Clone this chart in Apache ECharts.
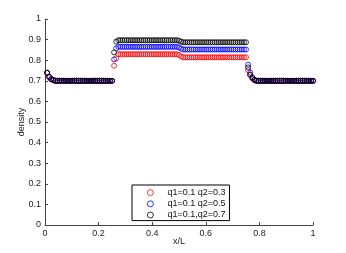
<!DOCTYPE html>
<html>
<head>
<meta charset="utf-8">
<script src="https://cdn.jsdelivr.net/npm/echarts@6/dist/echarts.min.js"></script>
<style>html,body{margin:0;padding:0;background:#fff}#c{width:346px;height:253px}</style>
</head>
<body>
<div id="c"></div>
<script>
// lattice size (x_i = i / N)
var N = 128;
var seriesNames = ['q1=0.1 q2=0.3', 'q1=0.1 q2=0.5', 'q1=0.1,q2=0.7'];
var xTicks = [0, 0.2, 0.4, 0.6, 0.8, 1];
var yTicks = [0, 0.1, 0.2, 0.3, 0.4, 0.5, 0.6, 0.7, 0.8, 0.9, 1];

var densityQ03 = [
 0.739,0.719,0.708,0.703,
 0.70,0.70,0.70,0.70,0.70,0.70,0.70,
 0.70,0.70,0.70,0.70,0.70,0.70,0.70,
 0.70,0.70,0.70,0.70,0.70,0.70,0.70,
 0.70,0.70,0.70,0.70,0.70,0.70,0.70,
 0.773,0.809,
 0.829,0.829,0.829,0.829,0.829,0.829,0.829,
 0.829,0.829,0.829,0.829,0.829,0.829,0.829,
 0.829,0.829,0.829,0.829,0.829,0.829,0.829,
 0.829,0.829,0.829,0.829,0.829,0.829,0.829,
 0.829,
 0.826,0.818,
 0.814,0.814,0.814,0.814,0.814,0.814,0.814,
 0.814,0.814,0.814,0.814,0.814,0.814,0.814,
 0.814,0.814,0.814,0.814,0.814,0.814,0.814,
 0.814,0.814,0.814,0.814,0.814,0.814,0.814,
 0.814,0.814,0.814,
 0.752,0.729,0.712,0.704,
 0.70,0.70,0.70,0.70,0.70,0.70,0.70,
 0.70,0.70,0.70,0.70,0.70,0.70,0.70,
 0.70,0.70,0.70,0.70,0.70,0.70,0.70,
 0.70,0.70,0.70,0.70,0.70,0.70,0.70
];
var densityQ05 = [
 0.739,0.719,0.708,0.703,
 0.70,0.70,0.70,0.70,0.70,0.70,0.70,
 0.70,0.70,0.70,0.70,0.70,0.70,0.70,
 0.70,0.70,0.70,0.70,0.70,0.70,0.70,
 0.70,0.70,0.70,0.70,0.70,0.70,0.70,
 0.804,0.857,
 0.865,0.865,0.865,0.865,0.865,0.865,0.865,
 0.865,0.865,0.865,0.865,0.865,0.865,0.865,
 0.865,0.865,0.865,0.865,0.865,0.865,0.865,
 0.865,0.865,0.865,0.865,0.865,0.865,0.865,
 0.865,
 0.862,0.856,
 0.852,0.852,0.852,0.852,0.852,0.852,0.852,
 0.852,0.852,0.852,0.852,0.852,0.852,0.852,
 0.852,0.852,0.852,0.852,0.852,0.852,0.852,
 0.852,0.852,0.852,0.852,0.852,0.852,0.852,
 0.852,0.852,0.852,
 0.778,0.740,0.716,0.705,
 0.70,0.70,0.70,0.70,0.70,0.70,0.70,
 0.70,0.70,0.70,0.70,0.70,0.70,0.70,
 0.70,0.70,0.70,0.70,0.70,0.70,0.70,
 0.70,0.70,0.70,0.70,0.70,0.70,0.70
];
var densityQ07 = [
 0.739,0.719,0.708,0.703,
 0.70,0.70,0.70,0.70,0.70,0.70,0.70,
 0.70,0.70,0.70,0.70,0.70,0.70,0.70,
 0.70,0.70,0.70,0.70,0.70,0.70,0.70,
 0.70,0.70,0.70,0.70,0.70,0.70,0.70,
 0.838,0.890,
 0.897,0.897,0.897,0.897,0.897,0.897,0.897,
 0.897,0.897,0.897,0.897,0.897,0.897,0.897,
 0.897,0.897,0.897,0.897,0.897,0.897,0.897,
 0.897,0.897,0.897,0.897,0.897,0.897,0.897,
 0.897,
 0.895,0.890,
 0.887,0.887,0.887,0.887,0.887,0.887,0.887,
 0.887,0.887,0.887,0.887,0.887,0.887,0.887,
 0.887,0.887,0.887,0.887,0.887,0.887,0.887,
 0.887,0.887,0.887,0.887,0.887,0.887,0.887,
 0.887,0.887,0.887,
 0.765,0.729,0.715,0.704,
 0.70,0.70,0.70,0.70,0.70,0.70,0.70,
 0.70,0.70,0.70,0.70,0.70,0.70,0.70,
 0.70,0.70,0.70,0.70,0.70,0.70,0.70,
 0.70,0.70,0.70,0.70,0.70,0.70,0.70
];
var colors = ['#ff0000', '#0000ff', '#000000'];
var allSeries = [densityQ03, densityQ05, densityQ07];

function pairs(arr) {
  return arr.map(function (v, i) { return [(i + 1) / N, v]; });
}

var chart = echarts.init(document.getElementById('c'), null, {renderer: 'canvas'});
var font = 'Liberation Sans, Arial, Helvetica, sans-serif';
chart.setOption({
  animation: false,
  backgroundColor: '#fff',
  textStyle: {fontFamily: font},
  grid: {left: 45, right: 33, top: 19, bottom: 28, containLabel: false},
  xAxis: {
    type: 'value', min: xTicks[0], max: xTicks[xTicks.length - 1], interval: 0.2,
    name: 'x/L', nameLocation: 'middle', nameGap: 12, nameMoveOverlap: false,
    nameTextStyle: {fontSize: 9, color: '#222', fontFamily: font},
    axisLine: {lineStyle: {color: '#444', width: 1}},
    axisTick: {inside: true, length: 3, lineStyle: {color: '#444'}},
    axisLabel: {fontSize: 9, color: '#222', margin: 4, fontFamily: font,
      formatter: function (v) { return String(+v.toFixed(1)); }},
    splitLine: {show: false}
  },
  yAxis: {
    type: 'value', min: yTicks[0], max: yTicks[yTicks.length - 1], interval: 0.1,
    name: 'density', nameLocation: 'middle', nameGap: 19, nameMoveOverlap: false,
    nameTextStyle: {fontSize: 9, color: '#222', fontFamily: font},
    axisLine: {show: true, lineStyle: {color: '#444', width: 1}},
    axisTick: {show: true, inside: true, length: 3, lineStyle: {color: '#444'}},
    axisLabel: {fontSize: 9, color: '#222', margin: 4, fontFamily: font,
      formatter: function (v) { return String(+v.toFixed(1)); }},
    splitLine: {show: false}
  },
  legend: {
    orient: 'vertical', left: 132, top: 185,
    padding: [2, 4, 0, 15], itemGap: 0,
    itemWidth: 6, itemHeight: 6,
    backgroundColor: '#fff', borderColor: '#000', borderWidth: 1,
    textStyle: {fontSize: 9, color: '#111', lineHeight: 11.2, padding: [0, 0, 0, 9], fontFamily: font},
    data: seriesNames.map(function (n, k) {
      return {name: n, icon: 'circle', itemStyle: {color: 'rgba(0,0,0,0)', borderColor: colors[k], borderWidth: 0.8}};
    })
  },
  series: allSeries.map(function (arr, k) {
    return {
      name: seriesNames[k], type: 'scatter', data: pairs(arr),
      symbol: 'circle', symbolSize: 5,
      itemStyle: {color: 'rgba(0,0,0,0)', borderColor: colors[k], borderWidth: 0.8, opacity: 1},
      emphasis: {disabled: true}
    };
  })
});
</script>
</body>
</html>
